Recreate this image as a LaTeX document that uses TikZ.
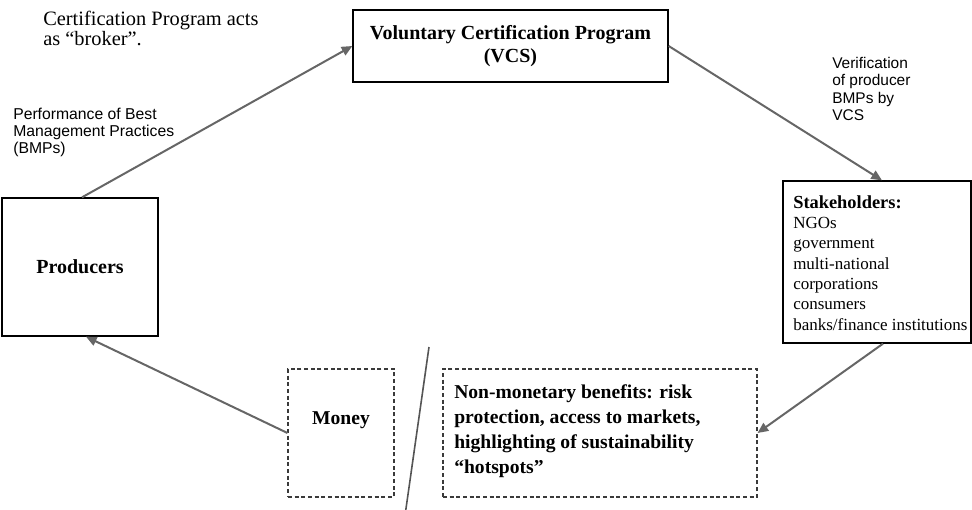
\documentclass[tikz,border=0pt]{standalone}
\usepackage{fontspec}
\setmainfont{Liberation Serif}
\newfontfamily\arialfont{Liberation Sans}
\usetikzlibrary{arrows.meta}
\definecolor{arrowgray}{HTML}{666666}
\definecolor{dashgray}{HTML}{3A3A3A}
\definecolor{slashgray}{HTML}{555555}
\newcommand\fsz[2]{\fontsize{#1}{#2}\selectfont}

\begin{document}
\begin{tikzpicture}[x=0.75pt,y=-0.75pt,
  solidbox/.style={draw=black,line width=1pt,inner sep=0pt},
  dashbox/.style={draw=dashgray,line width=0.8pt,dash pattern=on 3pt off 2pt,inner sep=0pt},
  flow/.style={draw=arrowgray,line width=1.5pt,-{Triangle[length=8pt,width=7pt]}},
  note/.style={inner sep=0pt,align=left,anchor=base west},
]
\useasboundingbox (0,0) rectangle (972,510);

% boxes
\node[solidbox,minimum width=315*0.75pt,minimum height=72*0.75pt,
      font=\bfseries\fsz{15}{17.25},align=center] (vcs) at (510.5,46)
      {Voluntary Certification Program\\(VCS)};
\node[solidbox,minimum width=156*0.75pt,minimum height=138*0.75pt,
      font=\bfseries\fsz{15}{18}] (prod) at (80,267) {Producers};
\node[solidbox,minimum width=188*0.75pt,minimum height=162*0.75pt] (stake) at (877,262) {};
\node[dashbox,minimum width=106*0.75pt,minimum height=128*0.75pt] (money) at (341,433) {};
\node[dashbox,minimum width=314*0.75pt,minimum height=128*0.75pt] (benefit) at (600,433) {};

% texts (multi-line notes are placed by the baseline of their last line)
\node[inner sep=0pt,anchor=base,font=\bfseries\fsz{14.7}{18}] (moneytext) at (341,424) {Money};
\node[note,font=\bfseries\fsz{14.7}{18.75}] (benefittext) at (454,473.6)
  {Non-monetary benefits: risk\\protection, access to markets,\\highlighting of sustainability\\“hotspots”};
\node[note,font=\fsz{12.75}{15.2}] (staketext) at (793,330)
  {{\bfseries\fsz{13.8}{15.2}Stakeholders:}\\NGOs\\government\\multi-national\\corporations\\consumers\\banks/finance institutions};
\node[note,font=\fsz{15.3}{15}] (broker) at (43,45.5)
  {Certification Program acts\\as “broker”.};
\node[note,font=\arialfont\fsz{11.8}{13.1}] (perf) at (13,154)
  {Performance of Best\\Management Practices\\(BMPs)};
\node[note,font=\arialfont\fsz{11.6}{13.1}] (verif) at (832,120.5)
  {Verification\\of producer\\BMPs by\\VCS};

% connectors
\draw[flow] ([xshift=1.5pt]prod.north) -- (vcs.west);
\draw[flow] (vcs.east) -- ([xshift=3.75pt]stake.north);
\draw[flow] ([xshift=4.5pt]stake.south) -- (benefit.east);
\draw[flow] (money.west) -- ([xshift=4.5pt]prod.south);

% dividing stroke between money and non-monetary benefits
\coordinate (slashtop) at (429,347);
\coordinate (slashbot) at (405.5,512);
\draw[slashgray,line width=1.2pt] (slashtop) -- (slashbot);
\end{tikzpicture}
\end{document}
